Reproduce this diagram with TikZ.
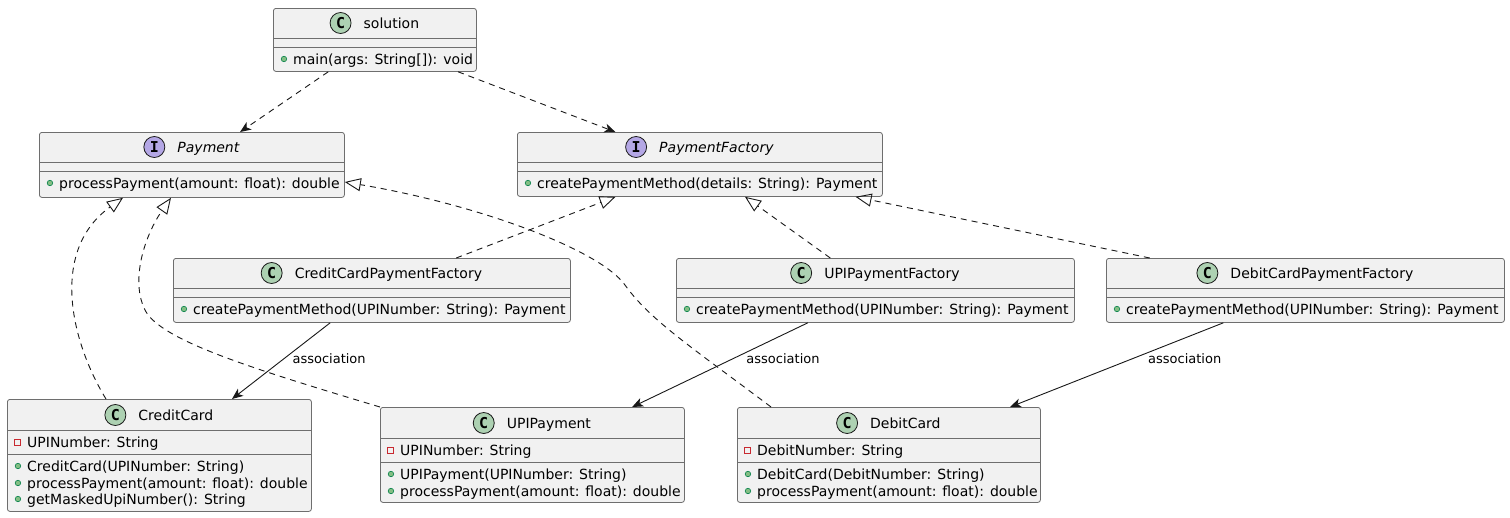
\documentclass[tikz,border=0pt]{standalone}
\usepackage{fontspec}
\setmainfont{DejaVu Sans}
\newfontfamily\spotfont{DejaVu Sans Mono}
\usetikzlibrary{positioning,arrows.meta}
\definecolor{boxfill}{HTML}{F1F1F1}
\definecolor{boxline}{HTML}{6E6E6E}
\definecolor{lnk}{HTML}{181818}
\definecolor{spotgreen}{HTML}{ADD1B2}
\definecolor{spotpurple}{HTML}{B4A7E5}
\definecolor{pubfill}{HTML}{84BE84}
\definecolor{publine}{HTML}{038048}
\definecolor{privline}{HTML}{C82930}

\tikzset{
  classbox/.style={draw=boxline, fill=boxfill, line width=0.8pt, rounded corners=2.5pt, anchor=north west, inner sep=0pt},
  sepline/.style={draw=boxline, line width=0.8pt},
  title/.style={inner sep=0pt, text height=10pt, text depth=0pt, font=\fontsize{14}{16}\selectfont},
  spot/.style={circle, draw=lnk, line width=0.8pt, minimum size=21pt, inner sep=0pt, font=\spotfont\bfseries\fontsize{15}{15}\selectfont},
  spotc/.style={spot, fill=spotgreen},
  spoti/.style={spot, fill=spotpurple},
  member/.style={anchor=west, inner sep=0pt, text height=10pt, text depth=0pt, font=\fontsize{14}{16}\selectfont},
  pubdot/.style={circle, draw=publine, fill=pubfill, line width=0.6pt, minimum size=5.5pt, inner sep=0pt},
  privdot/.style={rectangle, draw=privline, line width=0.7pt, minimum size=6pt, inner sep=0pt},
  pubm/.style={member, label={[pubdot, label distance=6pt]left:{}}},
  privm/.style={member, label={[privdot, label distance=6pt]left:{}}},
  dep/.style={draw=lnk, line width=0.9pt, dash pattern=on 6pt off 5pt, -{Stealth[length=11pt, width=9pt, inset=3pt]}},
  real/.style={draw=lnk, line width=0.9pt, dash pattern=on 6pt off 5pt, -{Triangle[open, length=16pt, width=13pt]}},
  assoc/.style={draw=lnk, line width=0.9pt, -{Stealth[length=11pt, width=9pt, inset=3pt]}},
  assoclabel/.style={anchor=west, inner sep=0pt, text height=9pt, text depth=0pt, font=\fontsize{13}{15}\selectfont},
}

\begin{document}
\begin{tikzpicture}[x=1pt, y=-1pt]
  \fill[white] (0,0) rectangle (1510,517);
  \useasboundingbox (0,0) rectangle (1510,517);

  % solution
  \node[classbox, minimum width=203pt, minimum height=63pt] (solution) at (273,8) {};
  \node[title] (solution-t) at ([xshift=16.5pt,yshift=-15pt]solution.north) {solution};
  \node[spotc, left=12pt of solution-t] {C};
  \draw[sepline] ([yshift=-30pt]solution.north west) -- ([yshift=-30pt]solution.north east);
  \draw[sepline] ([yshift=-39pt]solution.north west) -- ([yshift=-39pt]solution.north east);
  \node[pubm] at ([xshift=20pt,yshift=-51pt]solution.north west) {main(args: String[]): void};

  % interfaces
  \node[classbox, minimum width=305pt, minimum height=65pt] (payment) at (39,132) {};
  \node[title, font=\fontsize{14}{16}\selectfont\itshape] (payment-t) at ([xshift=16.5pt,yshift=-15pt]payment.north) {Payment};
  \node[spoti, left=12pt of payment-t] {I};
  \draw[sepline] ([yshift=-30pt]payment.north west) -- ([yshift=-30pt]payment.north east);
  \draw[sepline] ([yshift=-39pt]payment.north west) -- ([yshift=-39pt]payment.north east);
  \node[pubm] at ([xshift=20pt,yshift=-51pt]payment.north west) {processPayment(amount: float): double};

  \node[classbox, minimum width=365pt, minimum height=64pt] (factory) at (517,132) {};
  \node[title, font=\fontsize{14}{16}\selectfont\itshape] (factory-t) at ([xshift=16.5pt,yshift=-15pt]factory.north) {PaymentFactory};
  \node[spoti, left=12pt of factory-t] {I};
  \draw[sepline] ([yshift=-30pt]factory.north west) -- ([yshift=-30pt]factory.north east);
  \draw[sepline] ([yshift=-39pt]factory.north west) -- ([yshift=-39pt]factory.north east);
  \node[pubm] at ([xshift=20pt,yshift=-51pt]factory.north west) {createPaymentMethod(details: String): Payment};

  % factories
  \node[classbox, minimum width=397pt, minimum height=64pt] (ccfactory) at (173,258) {};
  \node[title] (ccfactory-t) at ([xshift=16.5pt,yshift=-15pt]ccfactory.north) {CreditCardPaymentFactory};
  \node[spotc, left=12pt of ccfactory-t] {C};
  \draw[sepline] ([yshift=-30pt]ccfactory.north west) -- ([yshift=-30pt]ccfactory.north east);
  \draw[sepline] ([yshift=-39pt]ccfactory.north west) -- ([yshift=-39pt]ccfactory.north east);
  \node[pubm] at ([xshift=20pt,yshift=-51pt]ccfactory.north west) {createPaymentMethod(UPINumber: String): Payment};

  \node[classbox, minimum width=398pt, minimum height=64pt] (upifactory) at (676,258) {};
  \node[title] (upifactory-t) at ([xshift=16.5pt,yshift=-15pt]upifactory.north) {UPIPaymentFactory};
  \node[spotc, left=12pt of upifactory-t] {C};
  \draw[sepline] ([yshift=-30pt]upifactory.north west) -- ([yshift=-30pt]upifactory.north east);
  \draw[sepline] ([yshift=-39pt]upifactory.north west) -- ([yshift=-39pt]upifactory.north east);
  \node[pubm] at ([xshift=20pt,yshift=-51pt]upifactory.north west) {createPaymentMethod(UPINumber: String): Payment};

  \node[classbox, minimum width=398pt, minimum height=64pt] (dcfactory) at (1106,258) {};
  \node[title] (dcfactory-t) at ([xshift=16.5pt,yshift=-15pt]dcfactory.north) {DebitCardPaymentFactory};
  \node[spotc, left=12pt of dcfactory-t] {C};
  \draw[sepline] ([yshift=-30pt]dcfactory.north west) -- ([yshift=-30pt]dcfactory.north east);
  \draw[sepline] ([yshift=-39pt]dcfactory.north west) -- ([yshift=-39pt]dcfactory.north east);
  \node[pubm] at ([xshift=20pt,yshift=-51pt]dcfactory.north west) {createPaymentMethod(UPINumber: String): Payment};

  % payments
  \node[classbox, minimum width=304pt, minimum height=112pt] (creditcard) at (7,399) {};
  \node[title] (creditcard-t) at ([xshift=16.5pt,yshift=-16pt]creditcard.north) {CreditCard};
  \node[spotc, left=12pt of creditcard-t] {C};
  \draw[sepline] ([yshift=-31pt]creditcard.north west) -- ([yshift=-31pt]creditcard.north east);
  \draw[sepline] ([yshift=-55pt]creditcard.north west) -- ([yshift=-55pt]creditcard.north east);
  \node[privm] at ([xshift=20pt,yshift=-43pt]creditcard.north west) {UPINumber: String};
  \node[pubm] at ([xshift=20pt,yshift=-67pt]creditcard.north west) {CreditCard(UPINumber: String)};
  \node[pubm] at ([xshift=20pt,yshift=-84pt]creditcard.north west) {processPayment(amount: float): double};
  \node[pubm] at ([xshift=20pt,yshift=-100pt]creditcard.north west) {getMaskedUpiNumber(): String};

  \node[classbox, minimum width=304pt, minimum height=95pt] (upipayment) at (380,407) {};
  \node[title] (upipayment-t) at ([xshift=16.5pt,yshift=-16pt]upipayment.north) {UPIPayment};
  \node[spotc, left=12pt of upipayment-t] {C};
  \draw[sepline] ([yshift=-31pt]upipayment.north west) -- ([yshift=-31pt]upipayment.north east);
  \draw[sepline] ([yshift=-55pt]upipayment.north west) -- ([yshift=-55pt]upipayment.north east);
  \node[privm] at ([xshift=20pt,yshift=-43pt]upipayment.north west) {UPINumber: String};
  \node[pubm] at ([xshift=20pt,yshift=-67pt]upipayment.north west) {UPIPayment(UPINumber: String)};
  \node[pubm] at ([xshift=20pt,yshift=-84pt]upipayment.north west) {processPayment(amount: float): double};

  \node[classbox, minimum width=303pt, minimum height=95pt] (debitcard) at (737,407) {};
  \node[title] (debitcard-t) at ([xshift=16.5pt,yshift=-16pt]debitcard.north) {DebitCard};
  \node[spotc, left=12pt of debitcard-t] {C};
  \draw[sepline] ([yshift=-31pt]debitcard.north west) -- ([yshift=-31pt]debitcard.north east);
  \draw[sepline] ([yshift=-55pt]debitcard.north west) -- ([yshift=-55pt]debitcard.north east);
  \node[privm] at ([xshift=20pt,yshift=-43pt]debitcard.north west) {DebitNumber: String};
  \node[pubm] at ([xshift=20pt,yshift=-67pt]debitcard.north west) {DebitCard(DebitNumber: String)};
  \node[pubm] at ([xshift=20pt,yshift=-84pt]debitcard.north west) {processPayment(amount: float): double};

  % dependencies
  \draw[dep] (solution) -- (payment);
  \draw[dep] (solution) -- (factory);

  % realizations
  \draw[real] (ccfactory) -- (factory);
  \draw[real] (upifactory) -- (factory);
  \draw[real] (dcfactory) -- (factory);
  \draw[real] ([xshift=99pt]creditcard.north west) .. controls (70,340) and (50,250) .. ([xshift=84pt]payment.south west);
  \draw[real] (upipayment.north west) .. controls (250,368) and (160,340) .. (145,310)
    .. controls (130,280) and (145,235) .. ([xshift=132pt]payment.south west);
  \draw[real] ([xshift=34pt]debitcard.north west) .. controls (690,346) and (650,320) .. (625,285)
    .. controls (600,250) and (480,205) .. ([yshift=-50pt]payment.north east);

  % associations
  \draw[assoc] (ccfactory) -- node[assoclabel, xshift=11pt, yshift=1.5pt] {association} (creditcard);
  \draw[assoc] (upifactory) -- node[assoclabel, xshift=26pt, yshift=5.5pt] {association} (upipayment);
  \draw[assoc] (dcfactory) -- node[assoclabel, xshift=31pt, yshift=5.5pt] {association} (debitcard);
\end{tikzpicture}
\end{document}
